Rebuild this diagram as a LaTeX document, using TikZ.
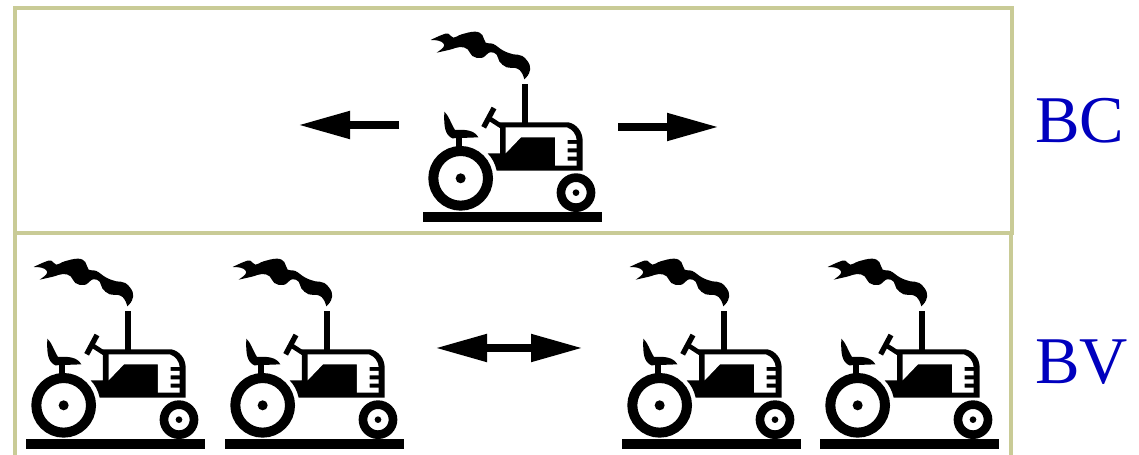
\documentclass[tikz,border=0pt]{standalone}
\usepackage{fontspec}
\setmainfont{Liberation Serif}
\usepackage{xcolor}
\usetikzlibrary{arrows.meta}
\definecolor{framecol}{RGB}{201,203,150}
\definecolor{labelcol}{RGB}{0,0,190}
\tikzset{
  framebox/.style={draw=framecol,line width=3.5*0.02cm},
  bigarrow/.style={line width=8*0.02cm,>={Stealth[length=52*0.02cm,width=26*0.02cm,inset=0pt]}},
  bandlabel/.style={text=labelcol,font=\fontsize{38}{38}\selectfont,inner sep=0pt},
  % coordinates of the tractor are read off a 3x crop, hence the x and y
  tractor/.pic={
    \begin{scope}[x=0.02cm/3,y=-0.02cm/3]
      \fill (24,576) rectangle (561,606);
      % wheels
      \draw[fill=white,line width=30*0.02cm/3] (137,475) circle (82);
      \fill (137,475) circle (15);
      \draw[fill=white,line width=26*0.02cm/3] (483,518) circle (45);
      \fill (483,518) circle (10);
      % body
      \fill (255,307) -- (460,307) .. controls (485,312) and (503,335) .. (503,362) -- (503,452)
        -- (245,452) .. controls (240,430) and (232,415) .. (218,400) -- (255,400) -- cycle;
      \fill[white] (272,322) -- (455,322) .. controls (472,328) and (483,342) .. (485,360)
        -- (458,360) -- (458,372) -- (485,372) -- (485,385) -- (458,385) -- (458,397) -- (485,397)
        -- (485,410) -- (458,410) -- (458,422) -- (485,422) -- (485,437) -- (420,437) -- (420,352)
        -- (318,352) -- (272,400) -- cycle;
      % stack and steering
      \fill (320,192) rectangle (340,310);
      \draw[line width=16*0.02cm/3] (206,322) -- (237,264);
      \draw[line width=14*0.02cm/3] (224,296) -- (258,318);
      % seat
      \fill (122,345) rectangle (140,385);
      \fill (88,275) .. controls (100,285) and (108,310) .. (120,330) .. controls (150,328) and (178,330) .. (190,352)
        -- (112,355) .. controls (90,345) and (86,320) .. cycle;
      % smoke
      \fill plot[smooth,tension=0.7] coordinates {(47,60) (80,45) (100,41) (115,53) (140,43) (180,35)
          (202,45) (212,68) (235,72) (265,92) (295,103) (322,108) (344,135) (342,160) (328,178)}
        -- plot[smooth,tension=0.7] coordinates {(328,178) (320,158) (305,145) (275,142) (253,124)
          (245,104) (225,97) (200,114) (172,108) (158,88) (135,81) (105,89) (65,98)}
        -- plot[smooth,tension=0.7] coordinates {(65,98) (85,82) (85,70) (70,62) (47,60)} -- cycle;
    \end{scope}
  }
}
\begin{document}
\begin{tikzpicture}[x=0.02cm,y=-0.02cm]
  \useasboundingbox (0,0) rectangle (1139,455);
  \draw[framebox] (15,8) rectangle (1012,233);
  \draw[framebox] (15,233) -- (15,470);
  \draw[framebox] (1011,233) -- (1011,470);

  \pic at (415,20) {tractor};
  \pic at (18,247) {tractor};
  \pic at (217,247) {tractor};
  \pic at (614,247) {tractor};
  \pic at (812,247) {tractor};

  \coordinate (bcleftstart) at (399,125);
  \coordinate (bcleftend) at (298,125);
  \coordinate (bcrightstart) at (618,127);
  \coordinate (bcrightend) at (719,127);
  \coordinate (bvleft) at (435,348);
  \coordinate (bvright) at (583,348);
  \draw[bigarrow,->] (bcleftstart) -- (bcleftend);
  \draw[bigarrow,->] (bcrightstart) -- (bcrightend);
  \draw[bigarrow,<->] (bvleft) -- (bvright);

  \node[bandlabel,anchor=base west] (bc) at (1035,143) {BC};
  \node[bandlabel,anchor=base west] (bv) at (1035,384) {BV};
\end{tikzpicture}
\end{document}
